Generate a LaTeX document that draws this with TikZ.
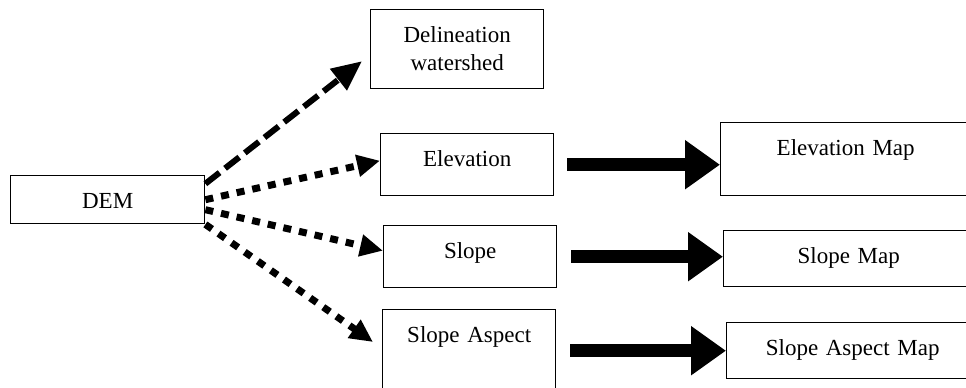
\documentclass[tikz,border=0pt]{standalone}
\usepackage{fontspec}
\setmainfont{Liberation Serif}
\usepackage{tikz}
\usetikzlibrary{arrows.meta,positioning}

\begin{document}
\begin{tikzpicture}[x=0.5pt, y=-0.5pt,
    font=\fontsize{11.5}{14}\selectfont,
    box/.style={draw, line width=0.7pt, anchor=north west, align=center,
      inner xsep=0pt, inner ysep=6.5pt, text height=10pt},
    dasharrow/.style={line width=3pt, dash pattern=on 9pt off 3.5pt,
      -{Triangle[length=15pt,width=13pt]}},
    dotarrow/.style={line width=3.5pt, dash pattern=on 4pt off 4pt,
      -{Triangle[length=11.5pt,width=10.5pt]}},
    bigarrow/.style={line width=6.5pt, -{Triangle[length=17.5pt,width=23.5pt]}}]
    \useasboundingbox (0,0) rectangle (966,387);
    \clip (0,0) rectangle (966,387);

    \coordinate (DEM1) at (10,175);
    \coordinate (DW1) at (370,9);
    \coordinate (EL1) at (380,133);
    \coordinate (SL1) at (383,225);
    \coordinate (SA1) at (382,309);
    \coordinate (EL2) at (720,122);
    \coordinate (SL2) at (723,230);
    \coordinate (SA2) at (726,322);

    \node [box, text width=97pt, text depth=1pt] (dem) at (DEM1) {DEM};
    \node [box, text width=86.5pt, text depth=16.5pt] (delin) at (DW1) {Delineation\\watershed};
    \node [box, text width=86.5pt, text depth=8pt] (elev) at (EL1) {Elevation};
    \node [box, text width=86.5pt, text depth=8pt] (slope) at (SL1) {Slope};
    \node [box, text width=86.5pt, text depth=27pt] (aspect) at (SA1) {Slope Aspect};

    \node [box, text width=125pt, text depth=13.5pt] (elevmap) at (EL2) {Elevation Map};
    \node [box, text width=125pt, text depth=5pt] (slopemap) at (SL2) {Slope Map};
    \node [box, text width=126pt, text depth=5pt] (aspectmap) at (SA2) {Slope Aspect Map};

    \draw [dasharrow] ([yshift=8pt]dem.east) to ([shift={(-4pt,-6pt)}]delin.west);
    \draw [dotarrow] (dem.east) to ([yshift=2pt]elev.west);
    \draw [dotarrow] ([yshift=-5pt]dem.east) to ([yshift=3pt]slope.west);
    \draw [dotarrow] (dem.south east) to ([shift={(-4.5pt,-16.5pt)}]aspect.north west);

    \draw [bigarrow] ([xshift=6.5pt]elev.east) to (elev.east -| elevmap.west);
    \draw [bigarrow] ([xshift=7pt]slope.east) to (slope.east -| slopemap.west);
    \draw [bigarrow] ([xshift=7pt]aspect.east |- aspectmap.west) to (aspectmap.west);
  \end{tikzpicture}
\end{document}
